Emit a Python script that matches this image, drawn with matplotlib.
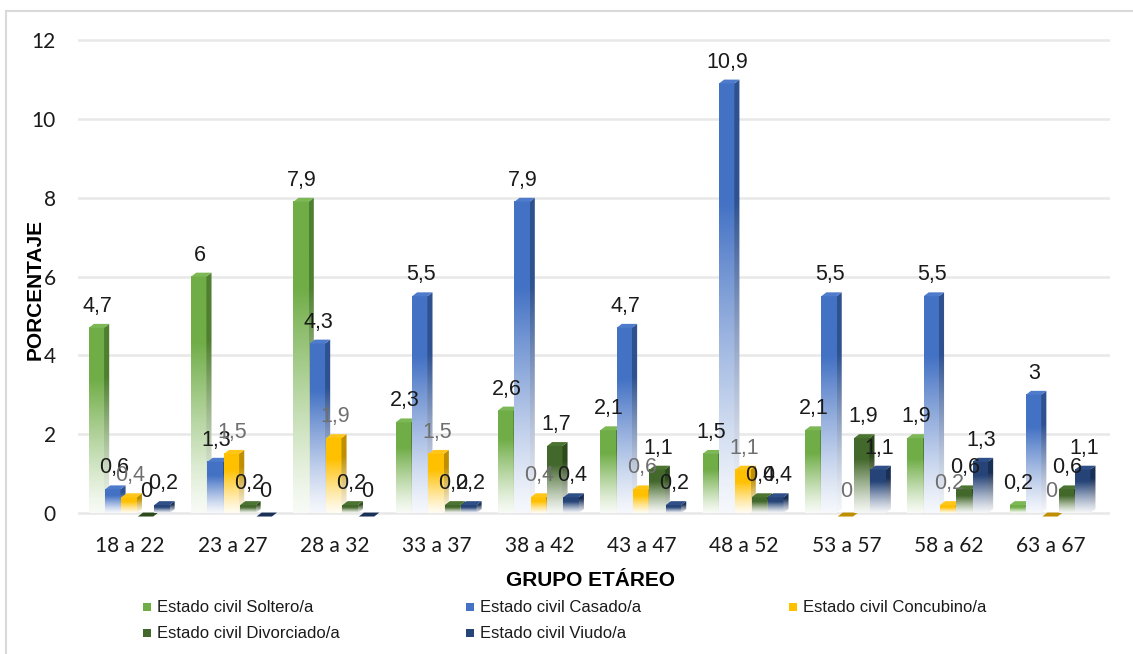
import numpy as np
import matplotlib
matplotlib.use('Agg')
import matplotlib.pyplot as plt
from matplotlib.patches import Polygon, Rectangle
from matplotlib.lines import Line2D
from matplotlib.colors import to_rgb

# ---------------- data ----------------
groups = ['18 a 22', '23 a 27', '28 a 32', '33 a 37', '38 a 42',
          '43 a 47', '48 a 52', '53 a 57', '58 a 62', '63 a 67']
series_names = ['Estado civil Soltero/a', 'Estado civil Casado/a',
                'Estado civil Concubino/a', 'Estado civil Divorciado/a',
                'Estado civil Viudo/a']
soltero = [4.7, 6, 7.9, 2.3, 2.6, 2.1, 1.5, 2.1, 1.9, 0.2]
casado = [0.6, 1.3, 4.3, 5.5, 7.9, 4.7, 10.9, 5.5, 5.5, 3]
concubino = [0.4, 1.5, 1.9, 1.5, 0.4, 0.6, 1.1, 0, 0.2, 0]
divorciado = [0, 0.2, 0.2, 0.2, 1.7, 1.1, 0.4, 1.9, 0.6, 0.6]
viudo = [0.2, 0, 0, 0.2, 0.4, 0.2, 0.4, 1.1, 1.3, 1.1]
yticks = [0, 2, 4, 6, 8, 10, 12]
x_title = 'GRUPO ETÁREO'
y_title = 'PORCENTAJE'

# ---------------- styles ----------------
front_colors = ['#70AD47', '#4472C4', '#FFC000', '#43682B', '#264478']
side_colors = ['#4F7F30', '#2F5290', '#BF8F00', '#2D4A1C', '#1A3056']
top_colors = ['#7DB856', '#4E7BCB', '#FFC61A', '#4B7331', '#2E4F87']
label_colors = ['#1a1a1a', '#1a1a1a', '#6f6f6f', '#1a1a1a', '#1a1a1a']
values = [soltero, casado, concubino, divorciado, viudo]

W, H = 1133, 654
fig = plt.figure(figsize=(W / 100, H / 100), dpi=100)
fig.patch.set_facecolor('white')

ax_left, ax_right, ax_top, ax_bot = 78, 1110, 20.5, 524.8
ax = fig.add_axes([ax_left / W, (H - ax_bot) / H, (ax_right - ax_left) / W, (ax_bot - ax_top) / H])
ax.set_xlim(-0.5, 9.587)
ax.set_ylim(-0.3, 12.5)

for s in ax.spines.values():
    s.set_visible(False)
ax.set_yticks(yticks)
ax.set_yticklabels([str(t) for t in yticks], fontsize=15, family=['Lato', 'DejaVu Sans'], color='#1a1a1a')
ax.set_xticks(np.arange(len(groups)) + 0.01)
ax.set_xticklabels(groups, fontsize=15, family=['Lato', 'DejaVu Sans'], color='#1a1a1a')
ax.tick_params(axis='both', length=0)
ax.tick_params(axis='y', pad=16)
ax.tick_params(axis='x', pad=8)
ax.grid(axis='y', color='#E8E8E8', linewidth=1.8, zorder=0)
ax.set_axisbelow(True)

step = 0.16
w = 0.15
d = 0.05
dy = 0.1


def grad_img(col, n=200):
    c = np.array(to_rgb(col))
    frac = np.linspace(0, 1, n)
    t = 0.05 + 0.95 * np.clip(frac / 0.72, 0, 1) ** 1.2
    rgb = 1 - (1 - c)[None, :] * t[:, None]
    return rgb[:, None, :]


z = 2
for g in range(len(groups)):
    for i, vals in enumerate(values):
        v = vals[g]
        x0 = g - 2.5 * step + i * step + 0.005
        z += 1
        if v > 0:
            ax.imshow(grad_img(front_colors[i]), extent=[x0, x0 + w, 0, v], origin='lower',
                      aspect='auto', interpolation='bilinear', zorder=z)
            side = Polygon([(x0 + w, 0), (x0 + w + d, dy), (x0 + w + d, v + dy), (x0 + w, v)],
                           closed=True, facecolor='none', edgecolor='none', zorder=z)
            ax.add_patch(side)
            im2 = ax.imshow(grad_img(side_colors[i]), extent=[x0 + w, x0 + w + d, 0, v + dy], origin='lower',
                            aspect='auto', interpolation='bilinear', zorder=z)
            im2.set_clip_path(side)
            base = v
        else:
            base = v - 0.09
        top = Polygon([(x0, base), (x0 + w, base), (x0 + w + d, base + dy), (x0 + d, base + dy)],
                      closed=True, facecolor=top_colors[i] if v > 0 else side_colors[i],
                      edgecolor='none', zorder=z + 0.5)
        ax.add_patch(top)
        lab = f'{v:g}'.replace('.', ',')
        ax.annotate(lab, (x0 + w / 2 + 0.01, v + dy), xytext=(0, 5), textcoords='offset points',
                    ha='center', va='bottom', fontsize=15.5, color=label_colors[i],
                    family=['Liberation Sans', 'DejaVu Sans'], zorder=200)

ax.set_xlim(-0.5, 9.587)
ax.set_ylim(-0.3, 12.5)

# axis titles
fig.text(590 / W, 1 - 580 / H, x_title, ha='center', va='center', fontsize=15, fontweight='bold',
         family=['Liberation Sans', 'DejaVu Sans'], color='#000000')
fig.text(35 / W, 1 - 289 / H, y_title, ha='center', va='center', rotation=90, fontsize=15, fontweight='bold',
         family=['Liberation Sans', 'DejaVu Sans'], color='#000000')

# legend (manual, Excel-like layout)
legend_pos = [(147, 607), (470, 607), (793, 607), (147, 633), (470, 633)]
for i, name in enumerate(series_names):
    px, py = legend_pos[i]
    fig.add_artist(Rectangle(((px - 4) / W, 1 - (py + 4) / H), 8 / W, 8 / H,
                             transform=fig.transFigure, facecolor=front_colors[i], edgecolor='none'))
    fig.text((px + 10) / W, 1 - py / H, name, ha='left', va='center', fontsize=12,
             family=['Liberation Sans', 'DejaVu Sans'], color='#1a1a1a')

# chart frame (light border, cropped on right/bottom)
fig.add_artist(Line2D([6 / W, 6 / W], [0, 1 - 11 / H], transform=fig.transFigure, color='#D9D9D9', lw=1.5))
fig.add_artist(Line2D([6 / W, 1], [1 - 11 / H, 1 - 11 / H], transform=fig.transFigure, color='#D9D9D9', lw=1.5))

fig.savefig('out.png', dpi=100, facecolor='white')
